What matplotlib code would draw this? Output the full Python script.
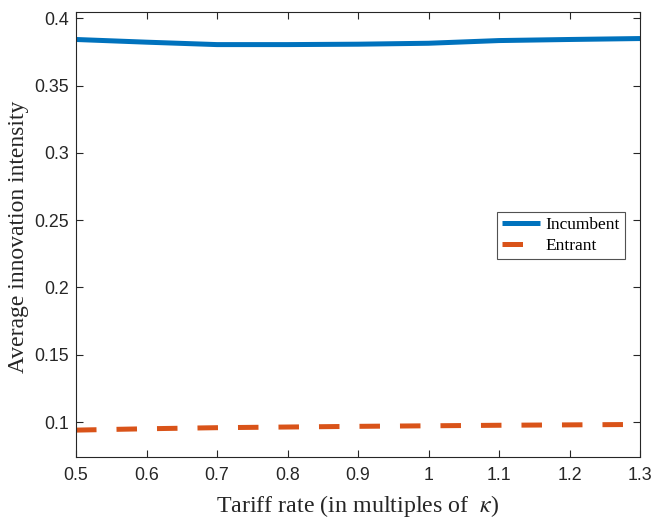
import matplotlib
matplotlib.use("Agg")
import matplotlib.pyplot as plt

tariff = [0.5, 0.6, 0.7, 0.8, 0.9, 1.0, 1.1, 1.2, 1.3]
incumbent = [0.3843, 0.3823, 0.3805, 0.3805, 0.3808, 0.3815, 0.3835, 0.3843, 0.3850]
entrant = [0.0940, 0.0950, 0.0958, 0.0963, 0.0968, 0.0972, 0.0976, 0.0979, 0.0982]

x_ticks = [0.5, 0.6, 0.7, 0.8, 0.9, 1.0, 1.1, 1.2, 1.3]
x_tick_labels = ["0.5", "0.6", "0.7", "0.8", "0.9", "1", "1.1", "1.2", "1.3"]
y_ticks = [0.1, 0.15, 0.2, 0.25, 0.3, 0.35, 0.4]
y_tick_labels = ["0.1", "0.15", "0.2", "0.25", "0.3", "0.35", "0.4"]

axis_color = "#262626"
plt.rcParams["mathtext.fontset"] = "stix"

fig = plt.figure(figsize=(6.53, 5.21), dpi=100)
ax = fig.add_axes([0.1164, 0.1228, 0.8637, 0.8541])

lw = 3.6
ax.plot(tariff, incumbent, color="#0072BD", lw=lw, label="Incumbent",
        solid_capstyle="butt")
ax.plot(tariff, entrant, color="#D95319", lw=lw, label="Entrant",
        linestyle=(0, (4.1, 4.0)), dash_capstyle="butt")

ax.set_xlim(0.5, 1.3)
ax.set_ylim(0.074, 0.4047)
ax.set_xticks(x_ticks)
ax.set_xticklabels(x_tick_labels)
ax.set_yticks(y_ticks)
ax.set_yticklabels(y_tick_labels)

for spine in ax.spines.values():
    spine.set_color(axis_color)
    spine.set_linewidth(0.8)
ax.tick_params(direction="in", top=True, right=True, length=5, width=0.8,
               color=axis_color, labelcolor=axis_color, labelsize=12.8)
for label in ax.get_xticklabels() + ax.get_yticklabels():
    label.set_family("Liberation Sans")
ax.tick_params(axis="x", pad=7)
ax.tick_params(axis="y", pad=5)

ax.set_xlabel(r"Tariff rate (in multiples of  $\kappa$)", family="Liberation Serif",
              fontsize=17.3, color=axis_color, labelpad=7)
ax.set_ylabel("Average innovation intensity", family="Liberation Serif",
              fontsize=17, color=axis_color)
ax.yaxis.set_label_coords(-0.083, 0.494)

leg = ax.legend(loc="upper left", bbox_to_anchor=(0.7465, 0.5506),
                prop={"family": "Liberation Serif", "size": 12.5},
                frameon=True, fancybox=False, edgecolor=axis_color,
                handlelength=2.2, borderpad=0.3, labelspacing=0.25,
                handletextpad=0.3, borderaxespad=0)
leg.get_frame().set_linewidth(0.8)

fig.savefig("out.png", dpi=100)
